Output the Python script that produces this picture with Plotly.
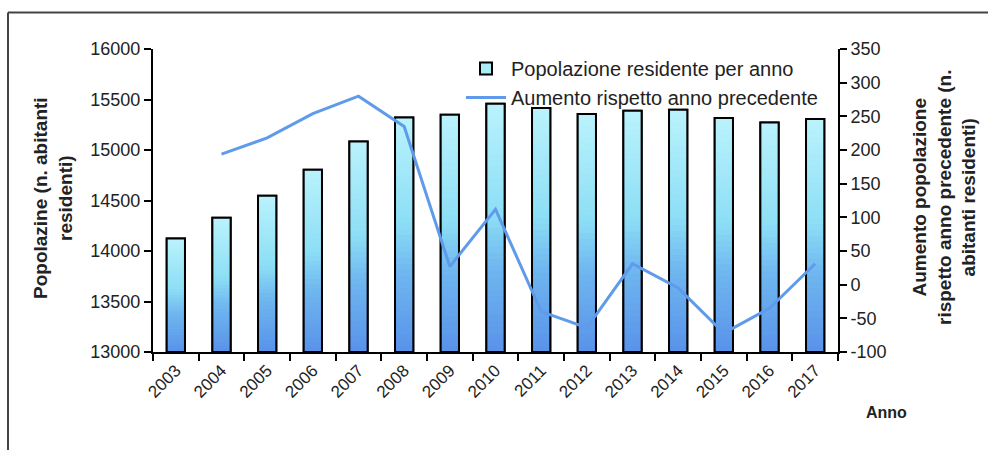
import plotly.graph_objects as go

# Dati: popolazione residente e variazione annua
anni = [str(a) for a in range(2003, 2018)]
popolazione = [14125, 14328, 14548, 14805, 15085, 15322, 15349, 15457,
               15415, 15356, 15388, 15398, 15316, 15273, 15306]
aumento = [None, 194, 218, 254, 280, 235, 27, 112, -40, -64, 31, -5, -72, -35, 31]

# etichette degli assi verticali
tick_pop = [13000, 13500, 14000, 14500, 15000, 15500, 16000]
tick_aum = [-100, -50, 0, 50, 100, 150, 200, 250, 300, 350]

BASE = 13000
N_SEG = 40
FONT = "Liberation Sans, Arial, sans-serif"

# colori del riempimento sfumato (dal basso verso l'alto)
stops = [(0.0, (88, 146, 234)), (0.35, (112, 184, 240)),
         (0.55, (140, 222, 246)), (1.0, (186, 243, 252))]


def colore(t):
    for (t0, c0), (t1, c1) in zip(stops[:-1], stops[1:]):
        if t <= t1:
            f = (t - t0) / (t1 - t0)
            r, g, b = (round(a + (bb - a) * f) for a, bb in zip(c0, c1))
            return f"rgb({r},{g},{b})"
    r, g, b = stops[-1][1]
    return f"rgb({r},{g},{b})"


fig = go.Figure()

BAR_W = 0.4

# voce di legenda per le barre
fig.add_trace(go.Bar(
    x=anni, y=[v - BASE for v in popolazione], base=[BASE] * len(anni),
    width=BAR_W, name="Popolazione residente per anno",
    marker=dict(color="rgb(170,236,248)", line=dict(color="black", width=2)),
    hoverinfo="skip",
))

# barre sfumate: ogni strato parte più in alto e arriva alla cima della barra
for k in range(N_SEG):
    t = (k + 0.5) / N_SEG
    fig.add_trace(go.Bar(
        x=anni,
        y=[(v - BASE) * (N_SEG - k) / N_SEG for v in popolazione],
        base=[BASE + (v - BASE) * k / N_SEG for v in popolazione],
        width=BAR_W, showlegend=False, hoverinfo="skip",
        marker=dict(color=colore(t), line=dict(width=0)),
    ))

# contorno nero delle barre
fig.add_trace(go.Bar(
    x=anni, y=[v - BASE for v in popolazione], base=[BASE] * len(anni),
    width=BAR_W, showlegend=False, name="Popolazione",
    marker=dict(color="rgba(0,0,0,0)", line=dict(color="black", width=2)),
))

# variazione rispetto all'anno precedente
fig.add_trace(go.Scatter(
    x=anni, y=aumento, yaxis="y2", mode="lines",
    name="Aumento rispetto anno precedente",
    line=dict(color="#5f9bea", width=3),
    connectgaps=False,
))

fig.update_layout(
    width=988, height=450,
    margin=dict(l=153, r=150, t=49, b=98),
    paper_bgcolor="white", plot_bgcolor="white",
    barmode="overlay",
    font=dict(family=FONT, size=18, color="#222"),
    showlegend=True,
    legend=dict(
        x=(461 - 153) / 685, y=1.0, xanchor="left", yanchor="top",
        bgcolor="rgba(0,0,0,0)", font=dict(size=20, color="#222"),
        tracegroupgap=0, itemwidth=40,
    ),
    xaxis=dict(
        type="category", tickson="boundaries", ticks="outside", ticklen=7,
        tickwidth=2, tickcolor="black", showline=True, linecolor="black",
        linewidth=2, tickangle=-45, showgrid=False, zeroline=False,
        tickfont=dict(size=17),
    ),
    yaxis=dict(
        range=[13000, 16000], tickvals=tick_pop,
        ticktext=[str(v) for v in tick_pop], ticks="outside", ticklen=7,
        tickwidth=2, tickcolor="black", showline=True, linecolor="black",
        linewidth=2, showgrid=False, zeroline=False, tickfont=dict(size=18),
    ),
    yaxis2=dict(
        range=[-100, 350], tickvals=tick_aum,
        ticktext=[str(v) for v in tick_aum], overlaying="y", side="right",
        ticks="outside", ticklen=7, tickwidth=2, tickcolor="black",
        showline=True, linecolor="black", linewidth=2, showgrid=False,
        zeroline=False, tickfont=dict(size=18),
    ),
)

# titoli degli assi
fig.add_annotation(
    text="<b>Popolazine (n. abitanti<br>residenti)</b>",
    xref="paper", yref="paper", x=(53 - 153) / 685, y=(352 - 198) / 303,
    xanchor="center", yanchor="middle", textangle=-90, showarrow=False,
    font=dict(size=19, color="#222"),
)
fig.add_annotation(
    text="<b>Aumento popolazione<br>rispetto anno precedente (n.<br>abitanti residenti)</b>",
    xref="paper", yref="paper", x=(944 - 153) / 685, y=(352 - 198) / 303,
    xanchor="center", yanchor="middle", textangle=-90, showarrow=False,
    font=dict(size=19, color="#222"),
)
fig.add_annotation(
    text="<b>Anno</b>", xref="paper", yref="paper",
    x=(886 - 153) / 685, y=(352 - 413) / 303,
    xanchor="center", yanchor="middle", showarrow=False,
    font=dict(size=16, color="#222"),
)

# cornice
top = (352 - 12.5) / 303
left = (8 - 153) / 685
fig.add_shape(type="line", xref="paper", yref="paper",
              x0=left, x1=(988 - 153) / 685, y0=top, y1=top,
              line=dict(color="#444", width=2))
fig.add_shape(type="line", xref="paper", yref="paper",
              x0=left, x1=left, y0=top, y1=(352 - 450) / 303,
              line=dict(color="#444", width=2))

fig.write_html("out.html")
